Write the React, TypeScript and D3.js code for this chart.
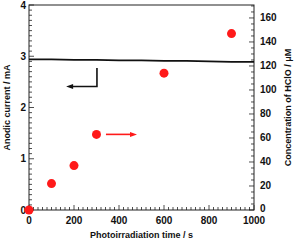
import React, { useEffect, useRef } from 'react';
import * as d3 from 'd3';

// current trace (left axis, mA)
const currentTime = [0, 100, 200, 300, 400, 500, 600, 700, 800, 900, 1000];
const currentValues = [2.94, 2.94, 2.93, 2.93, 2.92, 2.92, 2.91, 2.91, 2.9, 2.89, 2.89];

// HClO concentration (right axis, µM)
const hcloTime = [0, 100, 200, 300, 600, 900];
const hcloValues = [0, 22, 37, 63, 114, 147];

const xTicks = [0, 200, 400, 600, 800, 1000];
const leftTicks = [0, 1, 2, 3, 4];
const rightTicks = [0, 20, 40, 60, 80, 100, 120, 140, 160];

const App: React.FC = () => {
    const svgRef = useRef<SVGSVGElement | null>(null);

    useEffect(() => {
        if (!svgRef.current) return;
        const svg = d3.select(svgRef.current);
        svg.selectAll('*').remove();

        const margin = { top: 5, right: 41, bottom: 30, left: 29 };
        const width = 295, height = 240;
        const x = d3.scaleLinear().domain([0, 1000]).range([margin.left, width - margin.right]);
        const yL = d3.scaleLinear().domain([0, 4]).range([height - margin.bottom, margin.top]);
        const yR = d3.scaleLinear().domain([0, 170.8]).range([height - margin.bottom, margin.top]);
        const font = 'Liberation Sans, Arial, sans-serif';

        // frame
        svg.append('rect')
            .attr('x', margin.left).attr('y', margin.top)
            .attr('width', width - margin.left - margin.right)
            .attr('height', height - margin.top - margin.bottom)
            .style('fill', 'none').style('stroke', '#222').style('stroke-width', 1);

        const bottom = height - margin.bottom;
        const xl = margin.left, xr = width - margin.right;

        // bottom axis ticks (inward)
        d3.range(0, 1001, 20).forEach((v) => {
            const major = v % 200 === 0;
            svg.append('line')
                .attr('x1', x(v)).attr('x2', x(v))
                .attr('y1', bottom).attr('y2', bottom - (major ? 5 : 3))
                .style('stroke', '#222').style('stroke-width', 0.8);
        });
        // left axis ticks
        d3.range(0, 40.5, 1).forEach((k) => {
            const v = k / 10;
            const major = k % 10 === 0;
            svg.append('line')
                .attr('x1', xl).attr('x2', xl + (major ? 5 : 3))
                .attr('y1', yL(v)).attr('y2', yL(v))
                .style('stroke', '#222').style('stroke-width', 0.8);
        });
        // right axis ticks
        d3.range(0, 171, 5).forEach((v) => {
            const major = v % 20 === 0;
            svg.append('line')
                .attr('x1', xr).attr('x2', xr - (major ? 5 : 3))
                .attr('y1', yR(v)).attr('y2', yR(v))
                .style('stroke', '#222').style('stroke-width', 0.8);
        });

        const label = (sel: any) => sel
            .style('font-family', font).style('font-weight', 'bold')
            .style('font-size', '10px').style('fill', '#111');

        svg.selectAll('text.xt').data(xTicks).enter().append('text')
            .attr('class', 'xt').attr('x', (d) => x(d)).attr('y', bottom + 14)
            .attr('text-anchor', 'middle').text((d) => d).call(label);
        svg.selectAll('text.yl').data(leftTicks).enter().append('text')
            .attr('class', 'yl').attr('x', xl - 3).attr('y', (d) => yL(d)).attr('dy', '0.35em')
            .attr('text-anchor', 'end').text((d) => d).call(label);
        svg.selectAll('text.yr').data(rightTicks).enter().append('text')
            .attr('class', 'yr').attr('x', xr + 6).attr('y', (d) => yR(d)).attr('dy', (d) => d === 0 ? '0.15em' : '0.35em')
            .attr('text-anchor', 'start').text((d) => d).call(label);

        // axis titles
        svg.append('text').attr('x', (xl + xr) / 2).attr('y', 238)
            .attr('text-anchor', 'middle').text('Photoirradiation time / s')
            .call(label).style('font-size', '9px');
        svg.append('text').attr('transform', `translate(9.5,${(margin.top + bottom) / 2}) rotate(-90)`)
            .attr('text-anchor', 'middle').text('Anodic current / mA')
            .call(label).style('font-size', '9px');
        svg.append('text').attr('transform', `translate(290.5,${(margin.top + bottom) / 2}) rotate(-90)`)
            .attr('text-anchor', 'middle').text('Concentration of HClO / μM')
            .call(label).style('font-size', '9px');

        // current line
        const line = d3.line<number>().x((d, i) => x(currentTime[i])).y((d) => yL(d));
        svg.append('path').datum(currentValues).attr('d', line)
            .style('fill', 'none').style('stroke', '#111').style('stroke-width', 1.8);

        // HClO points
        svg.selectAll('circle.pt').data(hcloValues).enter().append('circle')
            .attr('class', 'pt').attr('cx', (d, i) => x(hcloTime[i])).attr('cy', (d) => yR(d))
            .attr('r', 4.5).style('fill', '#ff1a1a');

        // black arrow (points to left axis)
        const bx = x(302), by1 = yL(2.77), by2 = yL(2.41), bEnd = x(165);
        svg.append('path')
            .attr('d', `M${bx},${by1}V${by2}H${bEnd + 5}`)
            .style('fill', 'none').style('stroke', '#111').style('stroke-width', 1.6);
        svg.append('path')
            .attr('d', `M${bEnd},${by2}L${bEnd + 7},${by2 - 2.5}L${bEnd + 7},${by2 + 2.5}Z`)
            .style('fill', '#111');

        // red arrow (points to right axis)
        const ry = yR(63), rx1 = x(342), rx2 = x(480);
        svg.append('line').attr('x1', rx1).attr('x2', rx2 - 5).attr('y1', ry).attr('y2', ry)
            .style('stroke', '#ff1a1a').style('stroke-width', 1.6);
        svg.append('path')
            .attr('d', `M${rx2},${ry}L${rx2 - 7},${ry - 2.5}L${rx2 - 7},${ry + 2.5}Z`)
            .style('fill', '#ff1a1a');
    }, []);

    return (
        <div style={{ position: 'absolute', left: 0, top: 0 }}>
            <svg ref={svgRef} width={295} height={240} style={{ display: 'block', background: 'white' }} />
        </div>
    );
};

export default App;
